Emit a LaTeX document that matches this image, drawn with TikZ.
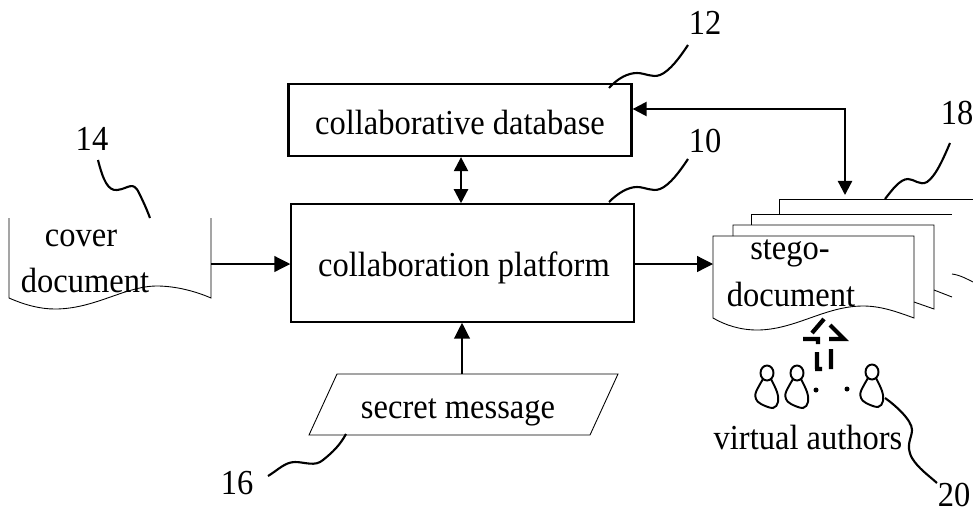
\documentclass[tikz,border=0pt]{standalone}
\usepackage{fontspec}
\setmainfont{Liberation Serif}
\usetikzlibrary{arrows.meta}
\tikzset{
	box/.style={draw,line width=0.9pt,minimum width=6.86cm,minimum height=2.36cm,inner sep=0pt},
	thinline/.style={line width=0.5pt},
	flow/.style={line width=0.7pt,-{Triangle[length=9pt,width=9pt]}},
	flowboth/.style={line width=1.3pt,{Triangle[length=8pt,width=8pt]}-{Triangle[length=8pt,width=8pt]}},
	leader/.style={line width=1.2pt},
	txt/.style={font=\fontsize{18.5}{22}\selectfont,inner sep=0pt,transform shape,yscale=1.08},
	author/.pic={
		\draw[line width=1.1pt] (0,0) ellipse (6.5 and 7.5);
		\draw[line width=1.1pt,smooth,tension=0.6] plot coordinates {(-4,6) (-11,19) (-11,26) (-6,31) (6,35) (11,29) (10,19) (4,6)};
	}
}
\begin{document}
\begin{tikzpicture}[x=0.02cm,y=-0.02cm]
	\useasboundingbox (0,0) rectangle (973,511);

	% main boxes
	\node[box,line width=1.3pt,minimum height=1.44cm] (database) at (460,120) {};
	\node[txt] at (460,122) {collaborative database};
	\node[box] (platform) at (462.5,263) {};
	\node[txt] at (464,268) {collaboration platform};

	% secret message
	\coordinate (msgtop) at (462,374);
	\draw[thinline] (337,374)--(618,374)--(590,435)--(309,435)--cycle;
	\node[txt] (message) at (458,412) {secret message};

	% cover document
	\draw[thinline] (9,218)--(9,298) .. controls (25,305) and (40,309) .. (55,309) .. controls (95,309) and (125,286) .. (157,286) .. controls (175,286) and (195,291) .. (211,298)--(211,218);
	\coordinate (coverout) at (211,264);
	\node[txt] (cover) at (81,238) {cover};
	\node[txt] (coverdoc) at (85,280) {document};

	% stego pages, back to front
	\draw[thinline] (779,214)--(779,199)--(973,199);
	\draw[thinline] (952,274) .. controls (960,275) and (967,279) .. (973,282);
	\draw[thinline] (751,225)--(751,214)--(952,214);
	\draw[thinline] (934,290)--(952,297);
	\draw[thinline] (733,236)--(733,225)--(934,225)--(934,309)--(914,302);
	\draw[thinline] (713,236)--(914,236)--(914,318) .. controls (895,311) and (880,306) .. (863,306) .. controls (825,306) and (795,330) .. (757,330) .. controls (740,330) and (725,325) .. (713,318)--cycle;
	\coordinate (stegoin) at (713,264);
	\coordinate (stegotop) at (845,195);
	\node[txt] (stego) at (790,253) {stego-};
	\node[txt] (stegodoc) at (791,294) {document};

	% connectors
	\draw[flow] (coverout)--(coverout-|platform.west);
	\draw[flow] (msgtop)--(msgtop|-platform.south);
	\draw[flow] (platform.east|-stegoin)--(stegoin);
	\draw[flowboth] (database.south-|461,0)--(platform.north-|461,0);
	\draw[flowboth] (database.east|-0,109)-|(stegotop);

	% dashed arrow up from the authors
	\draw[line width=2.4pt] (817,369)--(817,352) (831,369)--(831,349) (815,369)--(822,369)
		(803,339)--(818,339)--(818,344) (812,333)--(824,319) (830,325)--(844,339)--(829,339);

	% authors
	\pic at (767,373) {author};
	\pic at (797,373) {author};
	\pic at (872,372) {author};
	\fill (816,390) circle (2.5);
	\fill (847,389) circle (2.5);
	\coordinate (authorlast) at (885,398);
	\node[txt] (authors) at (808,437) {virtual authors};

	% reference numerals
	\node[txt] (n12) at (705,23) {12};
	\node[txt] (n10) at (705,141) {10};
	\node[txt] (n18) at (957,113) {18};
	\node[txt] (n14) at (92,139) {14};
	\node[txt] (n16) at (237,483) {16};
	\node[txt] (n20) at (954,495) {20};

	% leaders
	\draw[leader] (98,160) .. controls (103,180) and (108,191) .. (117,190) .. controls (128,189) and (133,180) .. (139,193) .. controls (144,203) and (147,210) .. (150,218);
	\draw[leader] (268,476) .. controls (278,470) and (285,462) .. (295,462) .. controls (305,462) and (315,467) .. (323,460) .. controls (333,452) and (340,445) .. (346,434);
	\draw[leader] (authorlast) .. controls (895,405) and (912,420) .. (912,430) .. controls (912,438) and (905,445) .. (912,458) .. controls (918,468) and (928,475) .. (937,483);
	\draw[leader] (609,88) .. controls (618,78) and (628,73) .. (637,73) .. controls (645,73) and (652,78) .. (660,75) .. controls (670,71) and (680,57) .. (688,45);
	\draw[leader] (609,202) .. controls (618,193) and (628,187) .. (637,187) .. controls (645,187) and (652,192) .. (660,189) .. controls (670,185) and (680,171) .. (688,159);
	\draw[leader] (885,199) .. controls (892,190) and (900,179) .. (908,179) .. controls (914,179) and (920,186) .. (927,182) .. controls (936,176) and (944,157) .. (950,143);
\end{tikzpicture}
\end{document}
